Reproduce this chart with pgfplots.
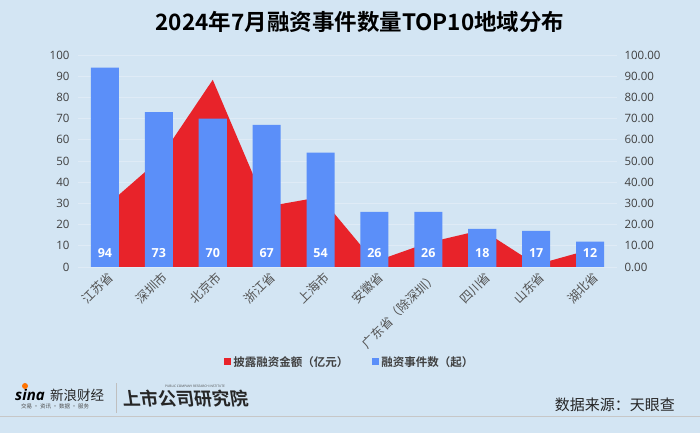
\documentclass[border=0pt]{standalone}
\usepackage{pgfplots}
\pgfplotsset{compat=1.18}
\usepackage{fontspec}
\setmainfont{Open Sans}
\newfontfamily\cjk[BoldFont={Noto Sans CJK SC Bold}]{Noto Sans CJK SC}
\definecolor{bg}{HTML}{D3E5F3}
\definecolor{barblue}{HTML}{5B8FF9}
\definecolor{areared}{HTML}{E8232A}
\definecolor{gridc}{HTML}{DFEBF6}
\definecolor{txt}{HTML}{404040}
\begin{document}
\begin{tikzpicture}[x=1pt,y=1pt]
\fill[bg] (0pt,0pt) rectangle (700pt,433pt);
\begin{axis}[
  at={(78pt,166pt)}, anchor=south west, scale only axis,
  width=539pt, height=212pt,
  xmin=-0.5, xmax=9.5, ymin=0, ymax=100,
  xtick={0,...,9},
  xticklabels={江苏省,深圳市,北京市,浙江省,上海市,安徽省,广东省（除深圳）,四川省,山东省,湖北省},
  xticklabel style={rotate=45, anchor=north east, font=\cjk\fontsize{12.5}{12.5}\selectfont, text=txt!90, inner sep=1pt, yshift=-3pt},
  ytick={0,10,...,100}, ytick pos=left,
  yticklabel style={font=\fontsize{11.5}{12}\selectfont, text=txt, xshift=-5pt},
  /pgf/number format/assume math mode=true,
  axis line style={draw=none}, major tick length=0,
  ymajorgrids, grid style={gridc, line width=0.7pt},
  legend style={at={(0.5046,-0.448)}, anchor=center, draw=none, fill=none,
    font=\cjk\bfseries\fontsize{11.5}{12}\selectfont, text=txt,
    legend columns=2, /tikz/every even column/.append style={column sep=22pt}},
  legend image code/.code={\fill[#1] (0pt,-3.5pt) rectangle (7pt,3.5pt);},
]
\addplot[fill=areared, draw=none] coordinates {
 (0,28.3) (1,50.5) (2,88.3) (3,28.5) (4,33.0) (5,2.5) (6,11.5) (7,17.5) (8,1.1) (9,8.2)
} \closedcycle;
\addlegendentry{披露融资金额（亿元）}
\addplot[ybar, bar width=0.52, fill=barblue, draw=none,
  visualization depends on={y \as \rawy},
  nodes near coords,
  every node near coord/.append style={anchor=center, text=white,
    font=\bfseries\fontsize{12.5}{13}\selectfont, yshift={-(\rawy-6.75)*2.12pt}}]
 coordinates {(0,94) (1,73) (2,70) (3,67) (4,54) (5,26) (6,26) (7,18) (8,17) (9,12)};
\addlegendentry{融资事件数（起）}
\end{axis}
\begin{axis}[
  at={(78pt,166pt)}, anchor=south west, scale only axis,
  width=539pt, height=212pt,
  xmin=-0.5, xmax=9.5, ymin=0, ymax=100,
  axis x line=none, axis y line*=right, axis line style={draw=none},
  major tick length=0,
  ytick={0,10,...,100},
  /pgf/number format/assume math mode=true,
  yticklabel style={font=\fontsize{11.5}{12}\selectfont, text=txt, xshift=4pt,
    /pgf/number format/.cd, fixed, fixed zerofill, precision=2},
]
\addplot[draw=none] coordinates {(0,0) (9,0)};
\end{axis}
% title
\node[font=\cjk\bfseries\fontsize{22.5}{23}\selectfont, text=black] at (360pt,411pt) {2024年7月融资事件数量TOP10地域分布};
% footer
\node[anchor=west, font=\bfseries\itshape\fontsize{15}{15}\selectfont, inner sep=0] at (15pt,38pt) {sina};
\fill[orange!90!red] (25pt,47pt) circle (3pt);
\node[anchor=west, font=\cjk\fontsize{13.5}{14}\selectfont, inner sep=0, text=black!85] at (50pt,38pt) {新浪财经};
\node[anchor=west, font=\cjk\fontsize{5.5}{6}\selectfont, inner sep=0, text=black!70] at (21pt,27pt) {交易 · 资讯 · 数据 · 服务};
\draw[black!25, line width=0.6pt] (116pt,20pt) -- (116pt,50pt);
\node[anchor=west, font=\cjk\bfseries\fontsize{18}{18}\selectfont, inner sep=0, text=black!85, xslant=-0.15] at (122pt,34pt) {上市公司研究院};
\node[anchor=west, font=\fontsize{3.2}{4}\selectfont, inner sep=0, text=black!70] at (165pt,47pt) {PUBLIC COMPANY RESEARCH INSTITUTE};
\node[anchor=east, font=\cjk\fontsize{15}{16}\selectfont, inner sep=0, text=black!85] at (675pt,28.5pt) {数据来源：天眼查};
\draw[black!22, line width=0.8pt] (0pt,17pt) -- (700pt,17pt);
\pgfresetboundingbox
\useasboundingbox (0pt,0pt) rectangle (700pt,433pt);
\end{tikzpicture}
\end{document}
